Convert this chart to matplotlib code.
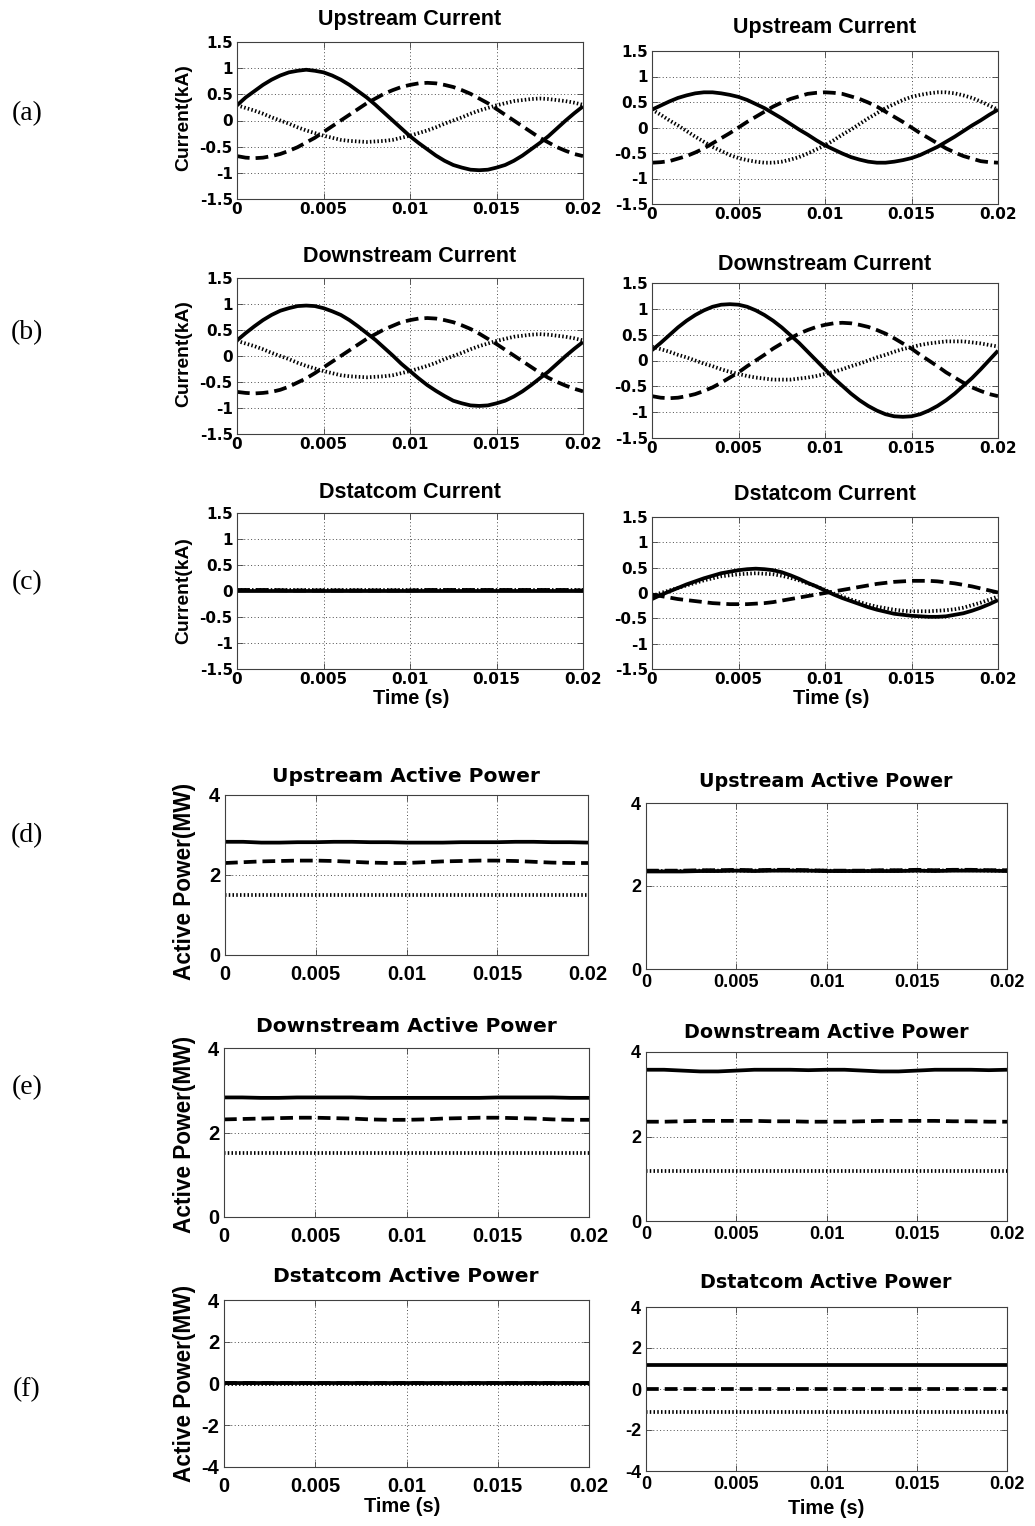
import matplotlib
matplotlib.use("Agg")
import matplotlib.pyplot as plt

W, H = 1035, 1526
ARIAL = "Liberation Sans"
TIMES = "Liberation Serif"

# ---------------- data ----------------
# sample instants for the current waveforms (s)
t_i = [0.0000, 0.0005, 0.0010, 0.0015, 0.0020, 0.0025, 0.0030, 0.0035, 0.0040, 0.0045,
       0.0050, 0.0055, 0.0060, 0.0065, 0.0070, 0.0075, 0.0080, 0.0085, 0.0090, 0.0095,
       0.0100, 0.0105, 0.0110, 0.0115, 0.0120, 0.0125, 0.0130, 0.0135, 0.0140, 0.0145,
       0.0150, 0.0155, 0.0160, 0.0165, 0.0170, 0.0175, 0.0180, 0.0185, 0.0190, 0.0195,
       0.0200]
# sample instants for the active powers (s)
t_p = [0.000, 0.001, 0.002, 0.003, 0.004, 0.005, 0.006, 0.007, 0.008, 0.009, 0.010,
       0.011, 0.012, 0.013, 0.014, 0.015, 0.016, 0.017, 0.018, 0.019, 0.020]

x_ticks = [0, 0.005, 0.01, 0.015, 0.02]
x_tick_labels = ["0", "0.005", "0.01", "0.015", "0.02"]
i_ticks = [-1.5, -1, -0.5, 0, 0.5, 1, 1.5]
i_tick_labels = ["-1.5", "-1", "-0.5", "0", "0.5", "1", "1.5"]
p_ticks = [0, 2, 4]
p_tick_labels = ["0", "2", "4"]
ps_ticks = [-4, -2, 0, 2, 4]
ps_tick_labels = ["-4", "-2", "0", "2", "4"]

# currents (kA), left column
up1_a = [0.29, 0.44, 0.56, 0.68, 0.78, 0.86, 0.92, 0.95, 0.97, 0.95,
         0.92, 0.86, 0.78, 0.68, 0.56, 0.44, 0.30, 0.15, 0.00, -0.15,
         -0.30, -0.43, -0.55, -0.67, -0.77, -0.85, -0.90, -0.94, -0.95, -0.94,
         -0.90, -0.85, -0.77, -0.67, -0.55, -0.43, -0.30, -0.15, 0.00, 0.14,
         0.27]
up1_b = [-0.68, -0.71, -0.72, -0.71, -0.68, -0.64, -0.58, -0.51, -0.42, -0.33,
         -0.22, -0.11, 0.00, 0.11, 0.22, 0.33, 0.42, 0.51, 0.58, 0.64,
         0.68, 0.71, 0.72, 0.71, 0.68, 0.64, 0.58, 0.51, 0.42, 0.33,
         0.22, 0.11, 0.00, -0.11, -0.22, -0.33, -0.42, -0.51, -0.58, -0.64,
         -0.68]
up1_c = [0.29, 0.24, 0.19, 0.13, 0.06, 0.00, -0.06, -0.13, -0.19, -0.24,
         -0.29, -0.33, -0.37, -0.39, -0.40, -0.41, -0.40, -0.39, -0.37, -0.33,
         -0.29, -0.24, -0.19, -0.13, -0.06, 0.00, 0.06, 0.13, 0.19, 0.24,
         0.29, 0.33, 0.37, 0.39, 0.41, 0.42, 0.41, 0.39, 0.37, 0.34,
         0.30]

dn1_a = [0.30, 0.44, 0.57, 0.69, 0.79, 0.87, 0.92, 0.96, 0.97, 0.96,
         0.92, 0.86, 0.79, 0.69, 0.57, 0.44, 0.31, 0.16, 0.01, -0.15,
         -0.29, -0.43, -0.56, -0.67, -0.77, -0.86, -0.91, -0.95, -0.96, -0.95,
         -0.91, -0.86, -0.78, -0.68, -0.56, -0.43, -0.30, -0.15, 0.00, 0.14,
         0.27]
dn1_b = [-0.69, -0.71, -0.72, -0.71, -0.69, -0.65, -0.59, -0.51, -0.43, -0.33,
         -0.22, -0.11, 0.00, 0.11, 0.22, 0.33, 0.42, 0.51, 0.58, 0.65,
         0.69, 0.72, 0.73, 0.72, 0.69, 0.65, 0.59, 0.52, 0.43, 0.33,
         0.23, 0.12, 0.01, -0.10, -0.21, -0.32, -0.42, -0.50, -0.57, -0.63,
         -0.68]
dn1_c = [0.29, 0.24, 0.19, 0.13, 0.06, 0.00, -0.06, -0.13, -0.19, -0.24,
         -0.29, -0.33, -0.37, -0.39, -0.40, -0.41, -0.40, -0.39, -0.37, -0.33,
         -0.29, -0.24, -0.19, -0.13, -0.06, 0.00, 0.06, 0.13, 0.19, 0.24,
         0.29, 0.33, 0.37, 0.39, 0.41, 0.42, 0.41, 0.39, 0.37, 0.34,
         0.30]

st1_a = [0.00, 0.00, 0.00, 0.00, 0.00, 0.00, 0.00, 0.00, 0.00, 0.00, 0.00,
         0.00, 0.00, 0.00, 0.00, 0.00, 0.00, 0.00, 0.00, 0.00, 0.00]
st1_b = [0.02, 0.02, 0.02, 0.01, 0.01, 0.01, 0.01, 0.01, 0.01, 0.01, 0.01,
         0.02, 0.02, 0.02, 0.02, 0.02, 0.02, 0.02, 0.02, 0.02, 0.01]
st1_c = [0.01, 0.01, 0.01, 0.01, 0.01, 0.01, 0.01, 0.01, 0.01, 0.01, 0.01,
         0.01, 0.01, 0.01, 0.01, 0.01, 0.01, 0.01, 0.01, 0.01, 0.01]

# currents (kA), right column
up2_a = [0.35, 0.43, 0.51, 0.58, 0.63, 0.67, 0.69, 0.69, 0.67, 0.64,
         0.60, 0.54, 0.46, 0.38, 0.28, 0.18, 0.07, -0.04, -0.14, -0.25,
         -0.35, -0.43, -0.51, -0.58, -0.63, -0.67, -0.69, -0.69, -0.67, -0.64,
         -0.60, -0.54, -0.46, -0.38, -0.28, -0.18, -0.07, 0.04, 0.14, 0.25,
         0.35]
up2_b = [-0.69, -0.68, -0.66, -0.61, -0.56, -0.49, -0.41, -0.31, -0.21, -0.11,
         0.00, 0.11, 0.21, 0.31, 0.41, 0.49, 0.56, 0.61, 0.66, 0.68,
         0.69, 0.68, 0.66, 0.61, 0.56, 0.49, 0.41, 0.31, 0.21, 0.11,
         0.00, -0.11, -0.21, -0.31, -0.41, -0.49, -0.56, -0.61, -0.66, -0.68,
         -0.69]
up2_c = [0.35, 0.25, 0.14, 0.04, -0.07, -0.18, -0.28, -0.38, -0.46, -0.54,
         -0.60, -0.64, -0.67, -0.69, -0.69, -0.67, -0.63, -0.58, -0.51, -0.43,
         -0.35, -0.25, -0.14, -0.04, 0.07, 0.18, 0.28, 0.38, 0.46, 0.54,
         0.60, 0.64, 0.67, 0.69, 0.69, 0.67, 0.63, 0.58, 0.51, 0.43,
         0.35]

dn2_a = [0.20, 0.34, 0.49, 0.64, 0.77, 0.88, 0.97, 1.04, 1.08, 1.09,
         1.08, 1.04, 0.97, 0.88, 0.77, 0.64, 0.49, 0.34, 0.17, 0.00,
         -0.17, -0.34, -0.49, -0.64, -0.77, -0.88, -0.97, -1.04, -1.08, -1.09,
         -1.08, -1.04, -0.97, -0.88, -0.77, -0.64, -0.49, -0.34, -0.17, 0.01,
         0.19]
dn2_b = [-0.69, -0.72, -0.73, -0.72, -0.69, -0.65, -0.59, -0.52, -0.43, -0.33,
         -0.23, -0.11, 0.00, 0.11, 0.23, 0.33, 0.43, 0.52, 0.59, 0.65,
         0.69, 0.72, 0.73, 0.72, 0.69, 0.65, 0.59, 0.52, 0.43, 0.33,
         0.23, 0.11, 0.00, -0.11, -0.23, -0.33, -0.43, -0.52, -0.59, -0.65,
         -0.69]
dn2_c = [0.27, 0.22, 0.17, 0.11, 0.06, 0.00, -0.06, -0.11, -0.17, -0.22,
         -0.26, -0.30, -0.33, -0.35, -0.37, -0.37, -0.37, -0.35, -0.33, -0.30,
         -0.26, -0.22, -0.17, -0.11, -0.06, 0.00, 0.06, 0.11, 0.17, 0.22,
         0.26, 0.30, 0.33, 0.35, 0.37, 0.37, 0.37, 0.35, 0.33, 0.30,
         0.27]

st2_a = [-0.12, -0.04, 0.03, 0.10, 0.17, 0.23, 0.29, 0.34, 0.39, 0.42,
         0.45, 0.47, 0.48, 0.47, 0.45, 0.41, 0.35, 0.28, 0.20, 0.13,
         0.05, -0.03, -0.10, -0.16, -0.22, -0.28, -0.33, -0.37, -0.41, -0.43,
         -0.45, -0.46, -0.47, -0.47, -0.46, -0.43, -0.40, -0.35, -0.29, -0.22,
         -0.14]
st2_b = [-0.03, -0.06, -0.09, -0.12, -0.14, -0.16, -0.18, -0.20, -0.21, -0.22,
         -0.22, -0.22, -0.21, -0.20, -0.18, -0.15, -0.12, -0.09, -0.06, -0.03,
         0.00, 0.03, 0.06, 0.09, 0.12, 0.15, 0.18, 0.20, 0.22, 0.23,
         0.24, 0.24, 0.24, 0.23, 0.21, 0.19, 0.16, 0.13, 0.09, 0.05,
         0.01]
st2_c = [-0.06, 0.00, 0.05, 0.10, 0.15, 0.20, 0.25, 0.29, 0.33, 0.35,
         0.37, 0.38, 0.39, 0.38, 0.37, 0.34, 0.30, 0.25, 0.19, 0.13,
         0.06, -0.01, -0.07, -0.13, -0.18, -0.23, -0.27, -0.30, -0.33, -0.35,
         -0.36, -0.36, -0.36, -0.35, -0.34, -0.32, -0.29, -0.24, -0.19, -0.13,
         -0.07]

# active powers (MW), left column
pu1_a = [2.83, 2.83, 2.81, 2.81, 2.82, 2.82, 2.83, 2.83, 2.82, 2.82, 2.81,
         2.81, 2.81, 2.82, 2.82, 2.82, 2.83, 2.83, 2.82, 2.82, 2.81]
pu1_b = [2.30, 2.32, 2.34, 2.35, 2.36, 2.36, 2.35, 2.33, 2.31, 2.30, 2.30,
         2.32, 2.34, 2.35, 2.36, 2.36, 2.35, 2.33, 2.31, 2.30, 2.30]
pu1_c = [1.50, 1.50, 1.50, 1.50, 1.50, 1.50, 1.50, 1.50, 1.50, 1.50, 1.50,
         1.50, 1.50, 1.50, 1.50, 1.50, 1.50, 1.50, 1.50, 1.50, 1.50]

pd1_a = [2.83, 2.83, 2.82, 2.82, 2.83, 2.83, 2.83, 2.83, 2.82, 2.82, 2.82,
         2.82, 2.82, 2.82, 2.82, 2.83, 2.83, 2.83, 2.83, 2.82, 2.82]
pd1_b = [2.31, 2.32, 2.33, 2.34, 2.35, 2.35, 2.34, 2.33, 2.31, 2.30, 2.30,
         2.31, 2.33, 2.34, 2.35, 2.35, 2.34, 2.33, 2.31, 2.30, 2.30]
pd1_c = [1.52, 1.52, 1.52, 1.52, 1.52, 1.52, 1.52, 1.52, 1.52, 1.52, 1.52,
         1.52, 1.52, 1.52, 1.52, 1.52, 1.52, 1.52, 1.52, 1.52, 1.52]

ps1_a = [0.03, 0.03, 0.03, 0.03, 0.03, 0.03, 0.03, 0.03, 0.03, 0.03, 0.03,
         0.03, 0.03, 0.03, 0.03, 0.03, 0.03, 0.03, 0.03, 0.03, 0.03]
ps1_b = [0.01, 0.01, 0.01, 0.01, 0.01, 0.01, 0.01, 0.01, 0.01, 0.01, 0.01,
         0.01, 0.01, 0.01, 0.01, 0.01, 0.01, 0.01, 0.01, 0.01, 0.01]
ps1_c = [0.00, 0.00, 0.00, 0.00, 0.00, 0.00, 0.00, 0.00, 0.00, 0.00, 0.00,
         0.00, 0.00, 0.00, 0.00, 0.00, 0.00, 0.00, 0.00, 0.00, 0.00]

# active powers (MW), right column
pu2_a = [2.35, 2.35, 2.35, 2.36, 2.36, 2.37, 2.36, 2.37, 2.37, 2.37, 2.36,
         2.36, 2.36, 2.36, 2.36, 2.37, 2.36, 2.37, 2.37, 2.37, 2.36]
pu2_b = [2.37, 2.37, 2.37, 2.38, 2.38, 2.39, 2.38, 2.39, 2.39, 2.38, 2.37,
         2.37, 2.37, 2.38, 2.38, 2.39, 2.38, 2.39, 2.39, 2.38, 2.38]
pu2_c = [2.36, 2.36, 2.36, 2.37, 2.37, 2.37, 2.37, 2.38, 2.38, 2.37, 2.37,
         2.36, 2.36, 2.37, 2.37, 2.37, 2.37, 2.38, 2.38, 2.37, 2.37]

pd2_a = [3.58, 3.58, 3.56, 3.54, 3.54, 3.56, 3.58, 3.58, 3.58, 3.57, 3.58,
         3.58, 3.56, 3.54, 3.54, 3.56, 3.58, 3.58, 3.58, 3.57, 3.58]
pd2_b = [2.35, 2.35, 2.36, 2.37, 2.37, 2.37, 2.37, 2.36, 2.36, 2.35, 2.35,
         2.35, 2.36, 2.37, 2.37, 2.37, 2.37, 2.36, 2.36, 2.35, 2.35]
pd2_c = [1.19, 1.19, 1.19, 1.19, 1.19, 1.19, 1.19, 1.19, 1.19, 1.19, 1.19,
         1.19, 1.19, 1.19, 1.19, 1.19, 1.19, 1.19, 1.19, 1.19, 1.19]

ps2_a = [1.18, 1.18, 1.18, 1.18, 1.18, 1.18, 1.18, 1.18, 1.18, 1.18, 1.18,
         1.18, 1.18, 1.18, 1.18, 1.18, 1.18, 1.18, 1.18, 1.18, 1.18]
ps2_b = [0.00, 0.00, 0.00, 0.00, 0.00, 0.00, 0.00, 0.00, 0.00, 0.00, 0.00,
         0.00, 0.00, 0.00, 0.00, 0.00, 0.00, 0.00, 0.00, 0.00, 0.00]
ps2_c = [-1.10, -1.10, -1.10, -1.10, -1.10, -1.10, -1.10, -1.10, -1.10, -1.10, -1.10,
         -1.10, -1.10, -1.10, -1.10, -1.10, -1.10, -1.10, -1.10, -1.10, -1.10]

# ---------------- figure ----------------
fig = plt.figure(figsize=(W / 100, H / 100), dpi=100)
fig.patch.set_facecolor("white")

LW = 2.7
STYLES = [
    dict(ls="-", lw=LW, solid_capstyle="butt", solid_joinstyle="round"),
    dict(ls=(0, (3.4, 1.6)), lw=LW, dash_capstyle="butt"),
    dict(ls=(0, (0.4, 0.6)), lw=LW, dash_capstyle="butt"),
]


def px_axes(left, top, right, bottom):
    return fig.add_axes([left / W, 1 - bottom / H, (right - left) / W, (bottom - top) / H])


def ftext(x, y, s, **kw):
    fig.text(x / W, 1 - y / H, s, **kw)


def make_panel(rect, x, series, ylim, yticks, ylabels, tick_font, tick_size, xpad, ypad):
    ax = px_axes(*rect)
    for values, style in zip(series, STYLES):
        ax.plot(x, values, color="black", **style)
    ax.set_xlim(0, 0.02)
    ax.set_ylim(*ylim)
    ax.set_xticks(x_ticks)
    ax.set_xticklabels(x_tick_labels)
    ax.set_yticks(yticks)
    ax.set_yticklabels(ylabels)
    ax.set_axisbelow(True)
    ax.grid(True, color="0.3", lw=0.7, ls=(0, (1, 2.5)))
    ax.tick_params(direction="in", top=True, right=True, length=4, width=0.6,
                   color="0.25", labelsize=tick_size)
    ax.tick_params(axis="x", pad=xpad)
    ax.tick_params(axis="y", pad=ypad)
    for lab in ax.get_xticklabels() + ax.get_yticklabels():
        lab.set_fontfamily(tick_font)
        lab.set_fontweight("bold")
    for sp in ax.spines.values():
        sp.set_linewidth(0.8)
        sp.set_color("0.25")
    return ax


I_LIM = (-1.5, 1.5)
P_LIM = (0, 4)
PS_LIM = (-4, 4)
CUR = dict(ylim=I_LIM, yticks=i_ticks, ylabels=i_tick_labels,
           tick_font="DejaVu Sans", tick_size=11, xpad=2, ypad=3)
PWR_L = dict(tick_font=ARIAL, tick_size=14.5, xpad=7, ypad=3.5)
PWR_R = dict(tick_font=ARIAL, tick_size=13, xpad=3.5, ypad=3.5)

make_panel((237, 42, 583, 199), t_i, [up1_a, up1_b, up1_c], **CUR)
make_panel((652, 51, 998, 204), t_i, [up2_a, up2_b, up2_c], **CUR)
make_panel((237, 278, 583, 434), t_i, [dn1_a, dn1_b, dn1_c], **CUR)
make_panel((652, 283, 998, 438), t_i, [dn2_a, dn2_b, dn2_c], **CUR)
make_panel((237, 513, 583, 669), t_p, [st1_a, st1_b, st1_c], **CUR)
make_panel((652, 517, 998, 669), t_i, [st2_a, st2_b, st2_c], **CUR)

make_panel((225, 795, 588, 955), t_p, [pu1_a, pu1_b, pu1_c], P_LIM, p_ticks, p_tick_labels, **PWR_L)
make_panel((646, 803, 1007, 969), t_p, [pu2_a, pu2_b, pu2_c], P_LIM, p_ticks, p_tick_labels, **PWR_R)
make_panel((224, 1048, 589, 1217), t_p, [pd1_a, pd1_b, pd1_c], P_LIM, p_ticks, p_tick_labels, **PWR_L)
make_panel((646, 1052, 1007, 1221), t_p, [pd2_a, pd2_b, pd2_c], P_LIM, p_ticks, p_tick_labels, **PWR_R)
make_panel((224, 1300, 589, 1467), t_p, [ps1_a, ps1_b, ps1_c], PS_LIM, ps_ticks, ps_tick_labels, **PWR_L)
make_panel((646, 1307, 1007, 1471), t_p, [ps2_a, ps2_b, ps2_c], PS_LIM, ps_ticks, ps_tick_labels, **PWR_R)

# panel titles
cur_title = dict(fontfamily=ARIAL, fontweight="bold", fontsize=15.5, ha="center", va="baseline")
pwr_title_l = dict(fontfamily="DejaVu Sans", fontweight="bold", fontsize=14.6, ha="center", va="baseline")
pwr_title_r = dict(fontfamily="DejaVu Sans", fontweight="bold", fontsize=13.8, ha="center", va="baseline")
ftext(410, 25, "Upstream Current", **cur_title)
ftext(825, 33, "Upstream Current", **cur_title)
ftext(410, 262, "Downstream Current", **cur_title)
ftext(825, 270, "Downstream Current", **cur_title)
ftext(410, 498, "Dstatcom Current", **cur_title)
ftext(825, 500, "Dstatcom Current", **cur_title)
ftext(406, 782, "Upstream Active Power", **pwr_title_l)
ftext(826, 787, "Upstream Active Power", **pwr_title_r)
ftext(406, 1032, "Downstream Active Power", **pwr_title_l)
ftext(826, 1038, "Downstream Active Power", **pwr_title_r)
ftext(406, 1282, "Dstatcom Active Power", **pwr_title_l)
ftext(826, 1288, "Dstatcom Active Power", **pwr_title_r)

# axis labels
ylab_i = dict(fontfamily=ARIAL, fontweight="bold", fontsize=13.9, rotation=90, ha="center", va="center")
ylab_p = dict(fontfamily=ARIAL, fontweight="bold", fontsize=16.3, rotation=90, ha="center", va="center")
ftext(184, 118, "Current(kA)", **ylab_i)
ftext(184, 354, "Current(kA)", **ylab_i)
ftext(184, 591, "Current(kA)", **ylab_i)
ftext(184, 881, "Active Power(MW)", **ylab_p)
ftext(184, 1134, "Active Power(MW)", **ylab_p)
ftext(184, 1383, "Active Power(MW)", **ylab_p)

xlab = dict(fontfamily=ARIAL, fontweight="bold", fontsize=14.4, ha="center", va="center")
ftext(411, 698, "Time (s)", **xlab)
ftext(831, 699, "Time (s)", **xlab)
ftext(402, 1506, "Time (s)", **xlab)
ftext(826, 1508, "Time (s)", **xlab)

# row labels
row = dict(fontfamily=TIMES, fontsize=20, ha="center", va="center")
for lab, y in zip(["(a)", "(b)", "(c)", "(d)", "(e)", "(f)"], [114, 333, 583, 836, 1088, 1390]):
    ftext(27, y, lab, **row)

fig.savefig("out.png", dpi=100)
